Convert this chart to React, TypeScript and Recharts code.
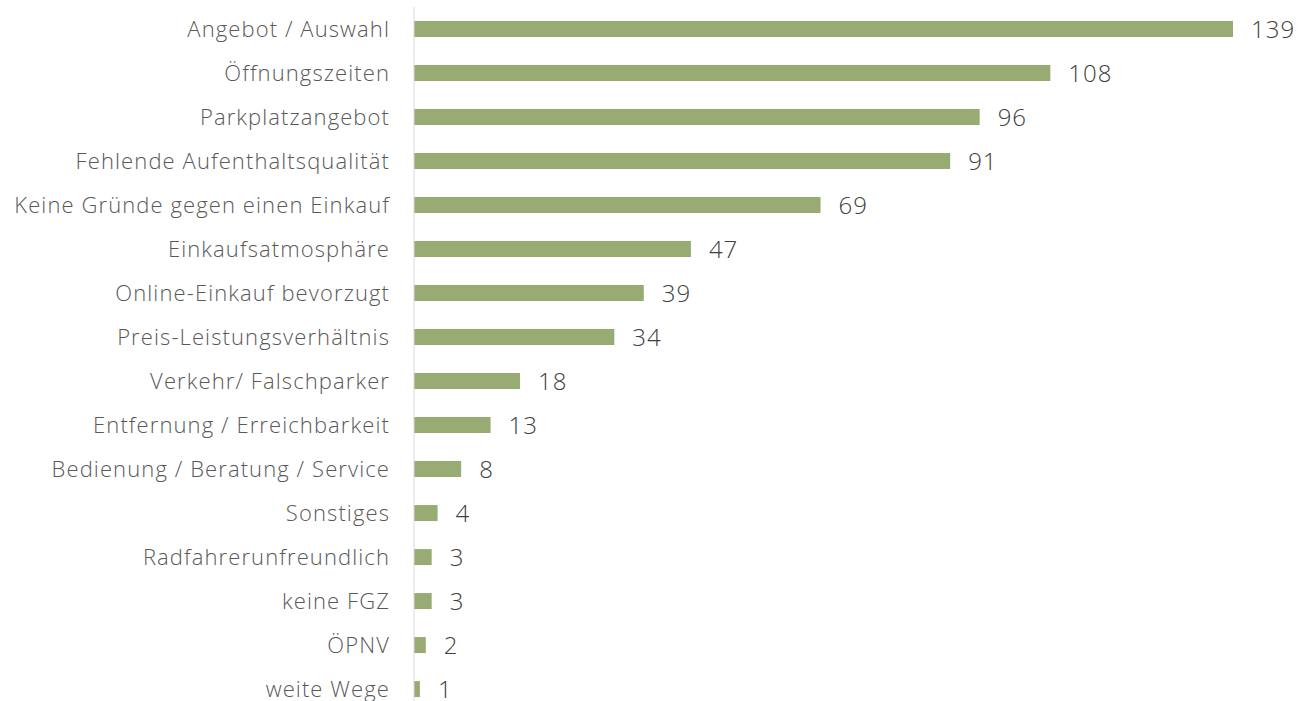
import { Bar, BarChart, LabelList, XAxis, YAxis } from "recharts"

const categories = [
  "Angebot / Auswahl",
  "Öffnungszeiten",
  "Parkplatzangebot",
  "Fehlende Aufenthaltsqualität",
  "Keine Gründe gegen einen Einkauf",
  "Einkaufsatmosphäre",
  "Online-Einkauf bevorzugt",
  "Preis-Leistungsverhältnis",
  "Verkehr/ Falschparker",
  "Entfernung / Erreichbarkeit",
  "Bedienung / Beratung / Service",
  "Sonstiges",
  "Radfahrerunfreundlich",
  "keine FGZ",
  "ÖPNV",
  "weite Wege",
]

const counts = [139, 108, 96, 91, 69, 47, 39, 34, 18, 13, 8, 4, 3, 3, 2, 1]

const data = categories.map((name, i) => ({ name, value: counts[i] }))

const FONT = "'Open Sans', 'Noto Sans', sans-serif"

export default function App() {
  return (
    <div style={{ position: "fixed", left: 0, top: 0, width: 1299, height: 701, overflow: "hidden", background: "#fff" }}>
      <BarChart
        width={1299}
        height={711}
        data={data}
        layout="vertical"
        margin={{ top: 7, right: 66, bottom: 0, left: 0 }}
        barCategoryGap="32%"
      >
        <XAxis type="number" domain={[0, 139]} hide />
        <YAxis
          type="category"
          dataKey="name"
          width={414}
          axisLine={{ stroke: "#d9d9d9" }}
          tickLine={false}
          tickSize={0}
          tickMargin={24}
          interval={0}
          tick={{ fontSize: 22, fill: "#595959", fontFamily: FONT, fontWeight: 300, letterSpacing: 1.1 }}
        />
        <Bar dataKey="value" fill="#98ab72" isAnimationActive={false}>
          <LabelList
            dataKey="value"
            position="right"
            offset={18}
            style={{ fontSize: 24, fill: "#404040", fontFamily: FONT, fontWeight: 300, letterSpacing: 1 }}
          />
        </Bar>
      </BarChart>
    </div>
  )
}
